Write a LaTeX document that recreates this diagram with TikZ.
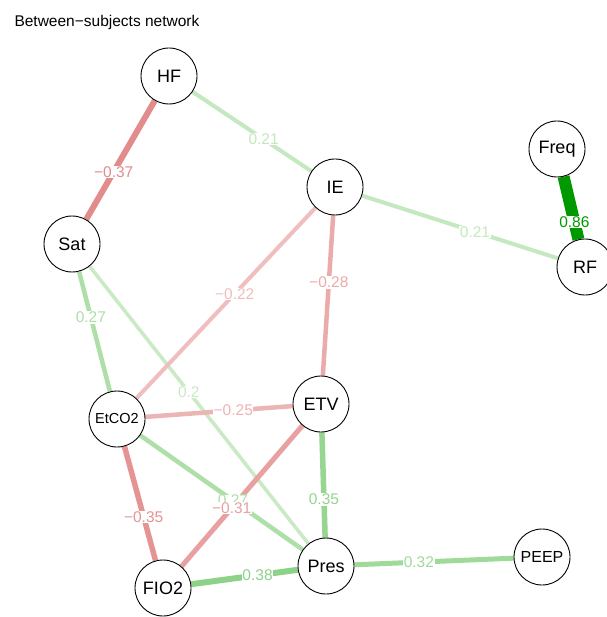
\documentclass[tikz,border=0pt]{standalone}
\usepackage{fontspec}
\setmainfont{Liberation Sans}
\usetikzlibrary{calc,backgrounds}

% edge colours by weight
\definecolor{p86}{HTML}{009900}
\definecolor{p38}{HTML}{8ED28A}
\definecolor{p35}{HTML}{96D690}
\definecolor{p32}{HTML}{A0DA9A}
\definecolor{p27}{HTML}{AEDFA8}
\definecolor{p21}{HTML}{C4E8BF}
\definecolor{p20}{HTML}{C9EAC4}
\definecolor{n37}{HTML}{E38C8C}
\definecolor{n35}{HTML}{E59494}
\definecolor{n31}{HTML}{E8A0A0}
\definecolor{n28}{HTML}{EBABAB}
\definecolor{n25}{HTML}{EDB4B4}
\definecolor{n22}{HTML}{F0BEBE}

\tikzset{
  var/.style={circle, draw=black, line width=0.9pt, fill=white, minimum size=56pt,
    inner sep=0pt, font=\fontsize{18}{18}\selectfont},
  small var/.style={var, font=\fontsize{14.5}{14.5}\selectfont},
  mid var/.style={var, font=\fontsize{16}{16}\selectfont},
  edge/.style={line width=#1},
  wlab/.style={fill=white, inner sep=0.6pt, font=\fontsize{15.5}{15.5}\selectfont},
}

\begin{document}
\begin{tikzpicture}[x=1pt, y=-1pt]
\useasboundingbox (0,0) rectangle (606,617);

\node[anchor=base west, font=\fontsize{15.5}{15.5}\selectfont] (title) at (11,27) {Between−subjects network};

% variables
\node[var] (HF) at (169,76) {HF};
\node[var] (IE) at (335,187) {IE};
\node[var] (Freq) at (557,149) {Freq};
\node[var] (RF) at (585,267) {RF};
\node[var] (Sat) at (72,244) {Sat};
\node[small var] (EtCO2) at (117,419) {EtCO2};
\node[var] (ETV) at (321,404) {ETV};
\node[var] (Pres) at (326,566) {Pres};
\node[var] (FIO2) at (163,588) {FIO2};
\node[mid var] (PEEP) at (542,557) {PEEP};

% edges, weakest first, beneath the circles
\begin{pgfonlayer}{background}
\fill[white] (0,0) rectangle (606,617);
\draw[edge=3.5pt, p20] (Pres) -- (Sat);
\draw[edge=4pt, p21] (HF) -- (IE);
\draw[edge=4pt, p21] (IE) -- (RF);
\draw[edge=4pt, n22] (EtCO2) -- (IE);
\draw[edge=4.5pt, n25] (EtCO2) -- (ETV);
\draw[edge=4.5pt, p27] (EtCO2) -- (Sat);
\draw[edge=4.5pt, p27] (EtCO2) -- (Pres);
\draw[edge=4.5pt, n28] (ETV) -- (IE);
\draw[edge=5pt, n31] (ETV) -- (FIO2);
\draw[edge=5pt, p32] (PEEP) -- (Pres);
\draw[edge=5.5pt, p35] (ETV) -- (Pres);
\draw[edge=5.5pt, n35] (EtCO2) -- (FIO2);
\draw[edge=6pt, n37] (HF) -- (Sat);
\draw[edge=6pt, p38] (FIO2) -- (Pres);
\draw[edge=12pt, p86] (Freq) -- (RF);
\end{pgfonlayer}

% weight labels
\node[wlab, text=p20] (l1) at ($(Pres.center)!0.54!(Sat.center)$) {0.2};
\node[wlab, text=p21] (l2) at ($(HF.center)!0.57!(IE.center)$) {0.21};
\node[wlab, text=p21] (l3) at ($(IE.center)!0.56!(RF.center)$) {0.21};
\node[wlab, text=n22] (l4) at ($(EtCO2.center)!0.54!(IE.center)$) {−0.22};
\node[wlab, text=n25] (l5) at ($(EtCO2.center)!0.57!(ETV.center)$) {−0.25};
\node[wlab, text=p27] (l6) at ($(EtCO2.center)!0.58!(Sat.center)$) {0.27};
\node[wlab, text=p27] (l7) at ($(EtCO2.center)!0.555!(Pres.center)$) {0.27};
\node[wlab, text=n28] (l8) at ($(ETV.center)!0.56!(IE.center)$) {−0.28};
\node[wlab, text=n31] (l9) at ($(ETV.center)!0.565!(FIO2.center)$) {−0.31};
\node[wlab, text=p32] (l10) at ($(PEEP.center)!0.57!(Pres.center)$) {0.32};
\node[wlab, text=p35] (l11) at ($(ETV.center)!0.59!(Pres.center)$) {0.35};
\node[wlab, text=n35] (l12) at ($(EtCO2.center)!0.58!(FIO2.center)$) {−0.35};
\node[wlab, text=n37] (l13) at ($(HF.center)!0.57!(Sat.center)$) {−0.37};
\node[wlab, text=p38] (l14) at ($(FIO2.center)!0.58!(Pres.center)$) {0.38};
\node[wlab, text=p86] (l15) at ($(Freq.center)!0.62!(RF.center)$) {0.86};
\end{tikzpicture}
\end{document}
